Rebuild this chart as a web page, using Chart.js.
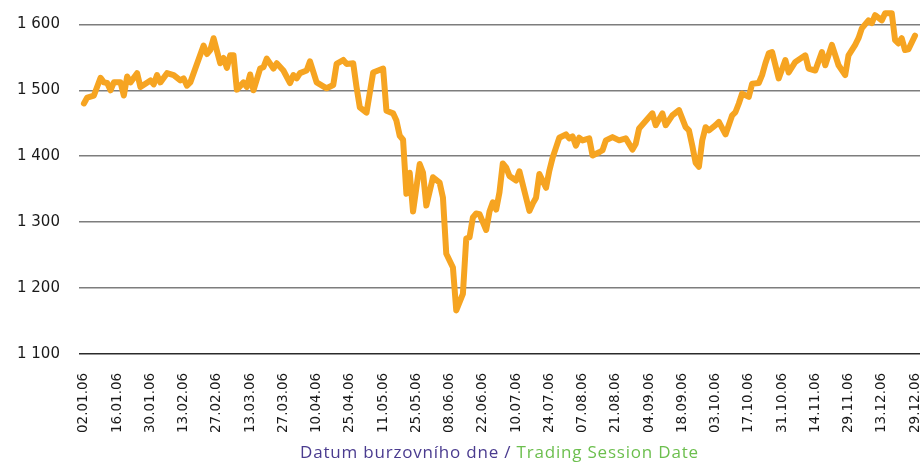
<!DOCTYPE html>
<html>
<head>
<meta charset="utf-8">
<script src="https://cdn.jsdelivr.net/npm/chart.js@4.4.1/dist/chart.umd.min.js"></script>
<style>
  html, body { margin: 0; padding: 0; background: #fff; }
  #wrap { width: 920px; height: 464px; position: relative; }
</style>
</head>
<body>
<div id="wrap"><canvas id="graf"></canvas></div>
<script>
// Dny obchodování (pořadí) a hodnota indexu
const dayIndex = [
  0, 1, 3, 5, 6, 7, 8, 9, 11, 12, 13, 14, 16, 17, 20, 21, 22, 23, 25, 27,
  29, 30, 31, 32, 36, 37, 38, 39, 41, 42, 43, 44, 45, 46, 48, 49, 50, 51, 53, 54,
  55, 57, 58, 60, 62, 63, 64, 65, 67, 68, 70, 73, 75, 76, 78, 79, 81, 82, 83, 85,
  87, 90, 91, 93, 94, 95, 96, 97, 98, 99, 101, 102, 103, 105, 107, 108, 109, 111, 112, 114,
  115, 116, 117, 118, 119, 121, 122, 123, 124, 125, 126, 127, 128, 130, 131, 134, 135, 136, 137, 139,
  140, 141, 142, 143, 145, 146, 147, 148, 149, 150, 152, 153, 155, 156, 157, 159, 161, 163, 165, 166,
  167, 171, 172, 174, 175, 177, 179, 181, 182, 183, 184, 185, 186, 187, 188, 190, 191, 193, 195, 196,
  197, 198, 200, 201, 203, 204, 205, 206, 207, 209, 211, 212, 214, 217, 218, 220, 222, 223, 225, 227,
  229, 230, 232, 233, 234, 236, 237, 238, 240, 241, 243, 244, 245, 246, 247, 248, 250
];
const indexValue = [
  1480, 1489, 1492, 1519, 1512, 1511, 1500, 1512, 1512, 1492, 1521, 1512, 1526, 1505, 1515, 1509, 1523, 1512, 1526, 1523,
  1515, 1518, 1507, 1512, 1568, 1555, 1561, 1579, 1541, 1549, 1534, 1553, 1553, 1501, 1512, 1505, 1524, 1500, 1533, 1535,
  1548, 1533, 1541, 1530, 1511, 1523, 1518, 1526, 1530, 1544, 1512, 1503, 1508, 1540, 1546, 1540, 1541, 1505, 1474, 1466,
  1527, 1533, 1469, 1465, 1454, 1431, 1425, 1343, 1375, 1316, 1388, 1375, 1325, 1368, 1360, 1337, 1252, 1231, 1166, 1191,
  1275, 1277, 1307, 1313, 1312, 1288, 1316, 1330, 1319, 1345, 1389, 1383, 1370, 1363, 1377, 1317, 1328, 1337, 1373, 1352,
  1378, 1398, 1413, 1428, 1433, 1427, 1430, 1416, 1428, 1424, 1427, 1401, 1406, 1409, 1424, 1429, 1424, 1427, 1410, 1419,
  1442, 1465, 1447, 1465, 1447, 1462, 1470, 1444, 1439, 1416, 1390, 1384, 1424, 1444, 1439, 1447, 1452, 1433, 1462, 1467,
  1480, 1495, 1490, 1510, 1511, 1523, 1541, 1556, 1558, 1518, 1546, 1527, 1543, 1553, 1533, 1530, 1558, 1538, 1569, 1538,
  1523, 1553, 1569, 1579, 1594, 1606, 1602, 1614, 1606, 1617, 1617, 1576, 1571, 1579, 1561, 1562, 1583
];

// Popisky osy x (každý 10. obchodní den)
const tickIdx = [0, 10, 20, 30, 40, 50, 60, 70, 80, 90, 100, 110, 120, 130, 140, 150, 160, 170, 180, 190, 200, 210, 220, 230, 240, 250];
const tickLabels = [
  '02.01.06', '16.01.06', '30.01.06', '13.02.06', '27.02.06', '13.03.06', '27.03.06', '10.04.06', '25.04.06',
  '11.05.06', '25.05.06', '08.06.06', '22.06.06', '10.07.06', '24.07.06', '07.08.06', '21.08.06', '04.09.06',
  '18.09.06', '03.10.06', '17.10.06', '31.10.06', '14.11.06', '29.11.06', '13.12.06', '29.12.06'
];
const yTicks = [1100, 1200, 1300, 1400, 1500, 1600];

const titleCz = 'Datum burzovního dne / ';
const titleEn = 'Trading Session Date';

// Dvoubarevný popisek osy x
const axisTitle = {
  id: 'axisTitle',
  afterDraw(chart) {
    const c = chart.ctx, a = chart.chartArea;
    c.save();
    c.font = '17px "Open Sans"';
    c.letterSpacing = '0.8px';
    c.textBaseline = 'alphabetic';
    const w1 = c.measureText(titleCz).width, w2 = c.measureText(titleEn).width;
    let x = (a.left + a.right) / 2 - (w1 + w2) / 2;
    const y = chart.height - 6;
    c.fillStyle = '#4a3b8f'; c.fillText(titleCz, x, y);
    c.fillStyle = '#6cbf4e'; c.fillText(titleEn, x + w1, y);
    c.restore();
  }
};

new Chart(document.getElementById('graf'), {
  type: 'line',
  data: {
    datasets: [{
      data: dayIndex.map((d, i) => ({ x: d, y: indexValue[i] })),
      borderColor: '#f6a421',
      borderWidth: 6,
      borderJoinStyle: 'round',
      borderCapStyle: 'round',
      pointRadius: 0,
      tension: 0,
      fill: false
    }]
  },
  options: {
    responsive: true,
    maintainAspectRatio: false,
    animation: false,
    layout: { padding: { left: -2, right: 0, top: 0, bottom: 12 } },
    plugins: { legend: { display: false }, tooltip: { enabled: false } },
    scales: {
      x: {
        type: 'linear',
        min: -1.5,
        max: 251.5,
        afterBuildTicks: s => { s.ticks = tickIdx.map(v => ({ value: v })); },
        afterFit: s => { s.paddingLeft = 0; s.paddingRight = 0; },
        ticks: {
          autoSkip: false,
          minRotation: 90,
          maxRotation: 90,
          padding: 19,
          color: '#1a1a1a',
          font: { family: 'DejaVu Sans', size: 13.5 },
          callback: v => tickLabels[tickIdx.indexOf(v)]
        },
        grid: { display: false, drawTicks: false },
        border: { display: false }
      },
      y: {
        min: 1100,
        max: 1637,
        afterBuildTicks: s => { s.ticks = yTicks.map(v => ({ value: v })); },
        afterFit: s => { s.paddingTop = 0; s.paddingBottom = 0; },
        ticks: {
          padding: 19,
          color: '#1a1a1a',
          font: { family: 'DejaVu Sans', size: 15 },
          callback: v => String(v).replace(/\B(?=(\d{3})+$)/, ' ')
        },
        grid: {
          drawTicks: false,
          lineWidth: 1.4,
          color: ctx => ctx.tick && ctx.tick.value === 1100 ? '#2b2b2b' : '#7d7d7d'
        },
        border: { display: false }
      }
    }
  },
  plugins: [axisTitle]
});
</script>
</body>
</html>
